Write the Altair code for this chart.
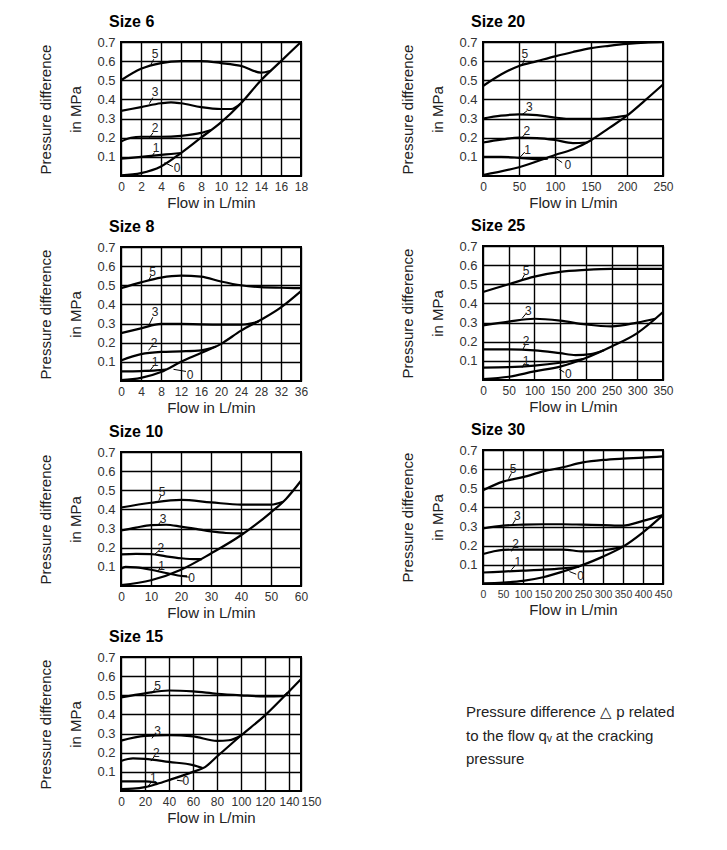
import altair as alt
import pandas as pd

FONT = "Liberation Sans"

# ---------------- data ----------------
Y_TICKS = [0.1, 0.2, 0.3, 0.4, 0.5, 0.6, 0.7]

# Size 6
S6_TICKS = [0, 2, 4, 6, 8, 10, 12, 14, 16, 18]
S6_CURVES = {
    "0": ([0, 2, 4, 6, 8, 10, 12, 14, 16, 18], [0.003, 0.015, 0.05, 0.12, 0.2, 0.28, 0.38, 0.5, 0.6, 0.7]),
    "1": ([0, 2, 4, 5, 6], [0.09, 0.1, 0.11, 0.115, 0.12]),
    "2": ([0, 1, 2, 4, 6, 8, 9], [0.18, 0.2, 0.205, 0.205, 0.21, 0.225, 0.24]),
    "3": ([0, 2, 4, 5, 6, 8, 10, 11, 12], [0.34, 0.36, 0.38, 0.385, 0.38, 0.36, 0.35, 0.35, 0.38]),
    "5": ([0, 2, 4, 6, 8, 10, 12, 14, 15], [0.5, 0.56, 0.59, 0.6, 0.6, 0.59, 0.575, 0.54, 0.55]),
}
# label, curve point (x, y), leader end (x, y), text centre (x, y)
S6_LABELS = [
    ("5", 3.0, 0.584, 3.28, 0.61, 3.4, 0.636),
    ("3", 2.84, 0.378, 3.18, 0.41, 3.4, 0.44),
    ("2", 2.84, 0.2, 3.2, 0.226, 3.4, 0.25),
    ("1", 3.0, 0.096, 3.34, 0.122, 3.5, 0.145),
    ("0", 4.35, 0.07, 5.18, 0.049, 5.6, 0.04),
]

# Size 20
S20_TICKS = [0, 50, 100, 150, 200, 250]
S20_CURVES = {
    "0": ([0, 50, 100, 125, 150, 175, 200, 225, 250], [0.005, 0.046, 0.11, 0.14, 0.187, 0.25, 0.315, 0.395, 0.478]),
    "1": ([0, 25, 50, 75, 90], [0.1, 0.1, 0.095, 0.088, 0.09]),
    "2": ([0, 25, 50, 75, 100, 125, 145], [0.175, 0.19, 0.2, 0.198, 0.188, 0.172, 0.175]),
    "3": ([0, 25, 50, 75, 100, 125, 150, 175, 200], [0.3, 0.315, 0.322, 0.318, 0.305, 0.298, 0.298, 0.303, 0.315]),
    "5": ([0, 25, 50, 75, 100, 125, 150, 175, 200, 225, 250], [0.47, 0.53, 0.575, 0.6, 0.625, 0.648, 0.668, 0.68, 0.69, 0.697, 0.7]),
}
S20_LABELS = [
    ("5", 55, 0.585, 57.5, 0.61, 58, 0.635),
    ("3", 54, 0.32, 61, 0.34, 64.5, 0.36),
    ("2", 54, 0.2, 58.5, 0.22, 61, 0.235),
    ("1", 51, 0.096, 58, 0.125, 62, 0.136),
    ("0", 98, 0.1, 110, 0.07, 118, 0.06),
]

# Size 8
S8_TICKS = [0, 4, 8, 12, 16, 20, 24, 28, 32, 36]
S8_CURVES = {
    "0": ([0, 4, 8, 12, 16, 20, 24, 28, 32, 36], [0.005, 0.016, 0.047, 0.1, 0.146, 0.194, 0.263, 0.32, 0.385, 0.47]),
    "1": ([0, 4, 7, 9], [0.05, 0.052, 0.055, 0.06]),
    "2": ([0, 4, 8, 12, 16, 19], [0.107, 0.14, 0.152, 0.155, 0.16, 0.18]),
    "3": ([0, 4, 8, 12, 16, 20, 24, 27.5], [0.25, 0.275, 0.298, 0.298, 0.296, 0.295, 0.295, 0.31]),
    "5": ([0, 4, 8, 12, 16, 20, 24, 28, 32, 36], [0.485, 0.515, 0.54, 0.55, 0.545, 0.52, 0.5, 0.49, 0.487, 0.485]),
}
S8_LABELS = [
    ("5", 5.5, 0.523, 6.0, 0.55, 6.3, 0.567),
    ("3", 5.7, 0.298, 6.35, 0.333, 6.8, 0.36),
    ("2", 5.5, 0.16, 6.2, 0.182, 6.6, 0.198),
    ("1", 5.8, 0.055, 6.5, 0.078, 6.8, 0.1),
    ("0", 10.5, 0.061, 13.0, 0.05, 13.8, 0.033),
]

# Size 25
S25_TICKS = [0, 50, 100, 150, 200, 250, 300, 350]
S25_CURVES = {
    "0": ([0, 50, 100, 150, 200, 250, 300, 350], [0.005, 0.017, 0.045, 0.07, 0.115, 0.175, 0.245, 0.355]),
    "1": ([0, 50, 100, 150, 195], [0.065, 0.067, 0.075, 0.09, 0.11]),
    "2": ([0, 50, 100, 150, 180, 210, 235], [0.16, 0.16, 0.155, 0.14, 0.13, 0.135, 0.155]),
    "3": ([0, 50, 100, 150, 200, 250, 300, 335], [0.285, 0.305, 0.32, 0.31, 0.29, 0.28, 0.3, 0.32]),
    "5": ([0, 50, 100, 150, 200, 250, 300, 350], [0.46, 0.5, 0.54, 0.565, 0.575, 0.58, 0.58, 0.58]),
}
S25_LABELS = [
    ("5", 75, 0.523, 80.6, 0.549, 84, 0.57),
    ("3", 76, 0.322, 84, 0.348, 88, 0.36),
    ("2", 77, 0.157, 82, 0.183, 84, 0.204),
    ("1", 76, 0.064, 80.6, 0.087, 84, 0.1),
    ("0", 148, 0.057, 158, 0.04, 166, 0.03),
]

# Size 10
S10_TICKS = [0, 10, 20, 30, 40, 50, 60]
S10_CURVES = {
    "0": ([0, 10, 20, 30, 40, 50, 55, 60], [0.005, 0.03, 0.085, 0.17, 0.265, 0.385, 0.455, 0.55]),
    "1": ([0, 1.5, 5, 10, 15, 19, 22], [0.09, 0.1, 0.097, 0.085, 0.068, 0.055, 0.05]),
    "2": ([0, 5, 10, 15, 20, 25, 27], [0.165, 0.168, 0.167, 0.155, 0.145, 0.14, 0.14]),
    "3": ([0, 5, 10, 15, 20, 25, 30, 35, 40, 41], [0.29, 0.305, 0.318, 0.32, 0.31, 0.298, 0.285, 0.277, 0.275, 0.277]),
    "5": ([0, 10, 20, 30, 40, 50, 54], [0.41, 0.435, 0.45, 0.437, 0.425, 0.425, 0.44]),
}
S10_LABELS = [
    ("5", 12.6, 0.447, 13.3, 0.47, 13.7, 0.49),
    ("3", 12.4, 0.32, 13.3, 0.337, 14.0, 0.35),
    ("2", 11.3, 0.167, 12.6, 0.184, 13.3, 0.2),
    ("1", 12.4, 0.079, 13.0, 0.095, 13.5, 0.105),
    ("0", 21.8, 0.048, 22.8, 0.046, 23.5, 0.044),
]

# Size 30
S30_TICKS = [0, 50, 100, 150, 200, 250, 300, 350, 400, 450]
S30_CURVES = {
    "0": ([0, 50, 100, 150, 200, 250, 300, 350, 400, 450], [0.003, 0.007, 0.016, 0.035, 0.065, 0.1, 0.143, 0.195, 0.27, 0.36]),
    "1": ([0, 50, 100, 150, 200, 240], [0.06, 0.065, 0.07, 0.075, 0.082, 0.09]),
    "2": ([0, 25, 50, 100, 150, 200, 250, 300, 350], [0.157, 0.17, 0.178, 0.18, 0.18, 0.18, 0.17, 0.175, 0.195]),
    "3": ([0, 50, 100, 150, 200, 250, 300, 350, 400, 450], [0.29, 0.305, 0.31, 0.312, 0.312, 0.31, 0.308, 0.305, 0.33, 0.36]),
    "5": ([0, 50, 100, 150, 200, 250, 300, 350, 400, 450], [0.49, 0.535, 0.558, 0.588, 0.61, 0.635, 0.648, 0.655, 0.66, 0.667]),
}
S30_LABELS = [
    ("5", 64, 0.55, 71, 0.578, 75, 0.6),
    ("3", 72, 0.305, 81, 0.336, 86, 0.357),
    ("2", 71, 0.17, 77, 0.193, 81.5, 0.21),
    ("1", 71, 0.074, 81.5, 0.1, 87, 0.117),
    ("0", 216, 0.065, 233, 0.051, 244, 0.042),
]

# Size 15
S15_TICKS = [0, 20, 40, 60, 80, 100, 120, 140, 150]
S15_CURVES = {
    "0": ([0, 10, 20, 30, 40, 60, 70, 80, 100, 120, 140, 150], [0.01, 0.012, 0.02, 0.037, 0.057, 0.1, 0.125, 0.18, 0.29, 0.395, 0.52, 0.585]),
    "1": ([0, 10, 20, 27, 30], [0.05, 0.05, 0.05, 0.046, 0.04]),
    "2": ([0, 10, 20, 40, 60, 68], [0.157, 0.17, 0.168, 0.152, 0.135, 0.12]),
    "3": ([0, 20, 40, 60, 80, 90, 100], [0.263, 0.288, 0.292, 0.285, 0.262, 0.265, 0.29]),
    "5": ([0, 20, 40, 60, 80, 100, 120, 135, 139], [0.489, 0.51, 0.525, 0.52, 0.508, 0.5, 0.494, 0.495, 0.513]),
}
S15_LABELS = [
    ("5", 25.8, 0.511, 28.6, 0.534, 30.5, 0.55),
    ("3", 25.8, 0.275, 28.6, 0.3, 30.5, 0.313),
    ("2", 25.0, 0.156, 27.7, 0.18, 29.4, 0.2),
    ("1", 22.0, 0.021, 25.8, 0.05, 27.0, 0.068),
    ("0", 46.6, 0.056, 51.6, 0.052, 54.0, 0.05),
]

NOTE_LINES = [
    "Pressure difference \u25b3 p related",
    "to the flow q\u1d65 at the cracking",
    "pressure",
]

W, H = 180, 134


def panel(title, xmax, ticks, curves, labels, xlabel_size=12):
    rows = []
    for name, (xs, ys) in curves.items():
        for i, (a, b) in enumerate(zip(xs, ys)):
            rows.append({"curve": name, "order": i, "x": a, "y": b})
    df = pd.DataFrame(rows)
    lab = pd.DataFrame(labels, columns=["t", "cx", "cy", "ex", "ey", "tx", "ty"])

    xscale = alt.Scale(domain=[0, xmax], nice=False, zero=False)
    yscale = alt.Scale(domain=[0, 0.7], nice=False)
    last = ticks[-1]
    xaxis = alt.Axis(values=ticks, title="Flow in L/min", labelFlush=False,
                     labelOverlap=False, labelPadding=5, titlePadding=3,
                     labelFontSize=xlabel_size,
                     labelAlign=alt.ConditionalAxisLabelAlign(
                         condition={"test": f"datum.value == {last} && {xmax} == 150", "value": "left"},
                         value="center"))
    yaxis = alt.Axis(values=Y_TICKS, format=".1f", title="in MPa", orient="left",
                     labelPadding=6, labelFontSize=13, titlePadding=13)
    yaxis2 = alt.Axis(title="Pressure difference", orient="left", labels=False, grid=False,
                      ticks=False, domain=False, titlePadding=12, offset=56)

    lines = alt.Chart(df).mark_line(color="black", strokeWidth=2.2, interpolate="monotone").encode(
        x=alt.X("x:Q", scale=xscale, axis=xaxis),
        y=alt.Y("y:Q", scale=yscale, axis=yaxis),
        detail="curve:N",
        order="order:Q",
    )
    leaders = alt.Chart(lab).mark_rule(color="black", strokeWidth=1).encode(
        x=alt.X("cx:Q", scale=xscale, axis=xaxis),
        y=alt.Y("cy:Q", scale=yscale, axis=yaxis2),
        x2="ex:Q",
        y2="ey:Q",
    )
    texts = alt.Chart(lab).mark_text(font=FONT, fontSize=12, color="#222").encode(
        x=alt.X("tx:Q", scale=xscale, axis=xaxis),
        y=alt.Y("ty:Q", scale=yscale, axis=None),
        text="t:N",
    )
    return alt.layer(lines, leaders, texts).resolve_axis(y="independent").properties(
        width=W, height=H,
        title=alt.TitleParams(text=title, anchor="start", frame="group", dx=-12,
                              fontSize=16, fontWeight="bold", font=FONT, color="black",
                              offset=6),
    )


note_df = pd.DataFrame({"line": list(range(len(NOTE_LINES))), "text": NOTE_LINES})
note = alt.Chart(note_df).mark_text(font=FONT, fontSize=15, color="#222", align="left",
                                    baseline="middle").encode(
    x=alt.value(-17),
    y=alt.Y("line:Q", axis=None, scale=alt.Scale(domain=[-3.7, 2.3], reverse=True)),
    text="text:N",
).properties(width=180, height=140, view=alt.ViewBackground(stroke="transparent"))

left = alt.vconcat(
    panel("Size 6", 18, S6_TICKS, S6_CURVES, S6_LABELS),
    panel("Size 8", 36, S8_TICKS, S8_CURVES, S8_LABELS),
    panel("Size 10", 60, S10_TICKS, S10_CURVES, S10_LABELS),
    panel("Size 15", 150, S15_TICKS, S15_CURVES, S15_LABELS),
    spacing=7,
)
right = alt.vconcat(
    panel("Size 20", 250, S20_TICKS, S20_CURVES, S20_LABELS),
    panel("Size 25", 350, S25_TICKS, S25_CURVES, S25_LABELS),
    panel("Size 30", 450, S30_TICKS, S30_CURVES, S30_LABELS, xlabel_size=10.5),
    note,
    spacing=6,
)

chart = alt.hconcat(left, right, spacing=76).properties(
    padding={"left": 29, "top": 5, "right": 5, "bottom": 5},
    background="white",
).configure_view(
    stroke="black", strokeWidth=2
).configure_axis(
    grid=True, gridColor="black", gridWidth=1.4, gridOpacity=1,
    domain=False, ticks=False,
    labelFont=FONT, labelFontSize=12, labelColor="#333",
    titleFont=FONT, titleFontSize=15, titleFontWeight="normal", titleColor="#222",
)

chart.save("out.html", embed_options={"renderer": "svg", "actions": False})
